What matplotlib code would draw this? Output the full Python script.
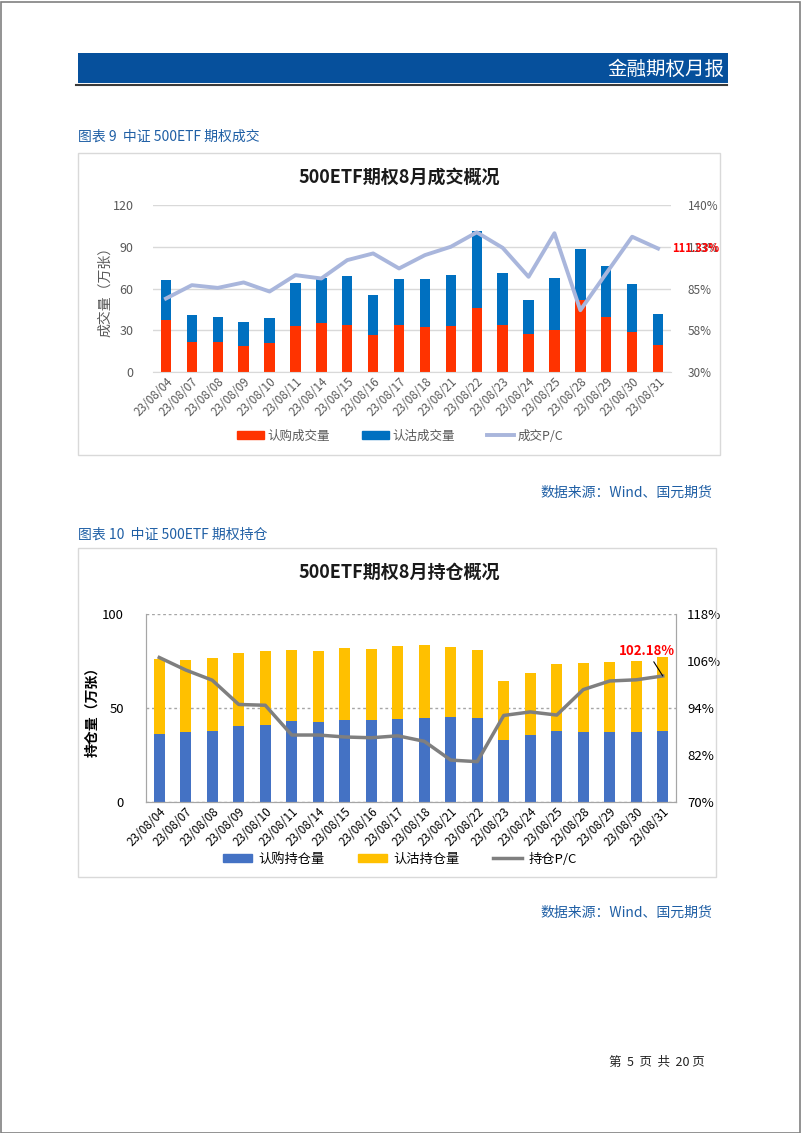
import matplotlib
matplotlib.use("Agg")
import matplotlib.pyplot as plt
from matplotlib.patches import Rectangle, Patch
from matplotlib.lines import Line2D
from matplotlib.ticker import FixedLocator, FixedFormatter
import numpy as np

plt.rcParams['font.family'] = ['Noto Sans CJK SC', 'DejaVu Sans']

W, H = 802, 1133

dates = ["23/08/04", "23/08/07", "23/08/08", "23/08/09", "23/08/10", "23/08/11",
         "23/08/14", "23/08/15", "23/08/16", "23/08/17", "23/08/18", "23/08/21",
         "23/08/22", "23/08/23", "23/08/24", "23/08/25", "23/08/28", "23/08/29",
         "23/08/30", "23/08/31"]

# 成交量 (万张)
call_vol = [37.1, 21.5, 21.3, 18.9, 21.1, 32.8, 34.9, 34.0, 26.3, 33.7,
            32.3, 32.8, 45.9, 33.5, 27.0, 30.1, 51.4, 39.5, 28.7, 19.7]
total_vol = [66.3, 40.7, 39.5, 36.1, 39.0, 63.9, 67.7, 68.9, 55.0, 67.0,
             67.0, 70.0, 101.6, 71.3, 51.7, 67.4, 88.5, 76.0, 63.4, 41.4]
vol_pc = [78.4, 87.2, 85.4, 89.0, 83.0, 93.8, 91.6, 103.7, 108.1, 98.2,
          107.0, 112.5, 122.0, 111.8, 92.7, 121.4, 70.7, 95.0, 119.1, 111.33]

# 持仓量 (万张)
call_oi = [36.4, 37.0, 38.0, 40.5, 41.0, 43.2, 42.6, 43.5, 43.5, 44.0,
           44.5, 45.3, 44.5, 33.2, 35.4, 38.0, 37.1, 37.0, 37.1, 38.0]
total_oi = [76.0, 75.7, 76.7, 79.2, 80.1, 81.1, 80.3, 81.9, 81.5, 82.9,
            83.3, 82.2, 80.8, 64.5, 68.8, 73.5, 74.1, 74.6, 75.1, 77.3]
oi_pc = [106.9, 103.7, 101.1, 94.9, 94.7, 87.1, 87.1, 86.6, 86.4, 86.9,
         85.5, 80.7, 80.3, 92.1, 93.0, 92.2, 98.7, 100.9, 101.2, 102.18]

put_vol = [t - c for t, c in zip(total_vol, call_vol)]
put_oi = [t - c for t, c in zip(total_oi, call_oi)]


def px(x0, y0, x1, y1):
    return [x0 / W, 1 - y1 / H, (x1 - x0) / W, (y1 - y0) / H]


fig = plt.figure(figsize=(W / 100, H / 100), dpi=100)
fig.patch.set_facecolor('white')

# page border
fig.add_artist(Rectangle((0.5 / W, 0.5 / H), 1 - 2.5 / W, 1 - 2.5 / H, transform=fig.transFigure,
                         fill=False, edgecolor='#808080', lw=1.2))
# header band
fig.add_artist(Rectangle((78 / W, 1 - 83 / H), (728 - 78) / W, 30 / H, transform=fig.transFigure,
                         facecolor='#06509C', edgecolor='none'))
fig.add_artist(Line2D([76 / W, 727 / W], [1 - 85 / H, 1 - 85 / H], transform=fig.transFigure,
                      color='#3A3A3A', lw=1.5))
fig.text(724 / W, 1 - 69 / H, "金融期权月报", color='white', fontsize=14, ha='right', va='center')

blue_txt = '#1F5FA5'
fig.text(78 / W, 1 - 137 / H, "图表 9  中证 500ETF 期权成交", color=blue_txt, fontsize=10, va='center')
fig.text(712 / W, 1 - 493 / H, "数据来源：Wind、国元期货", color=blue_txt, fontsize=10, ha='right', va='center')
fig.text(78 / W, 1 - 535 / H, "图表 10  中证 500ETF 期权持仓", color=blue_txt, fontsize=10, va='center')
fig.text(712 / W, 1 - 913 / H, "数据来源：Wind、国元期货", color=blue_txt, fontsize=10, ha='right', va='center')
fig.text(657 / W, 1 - 1062 / H, "第  5  页  共  20 页", color='#222222', fontsize=9, ha='center', va='center')

# chart boxes
for (x0, y0, x1, y1) in [(78, 153, 720, 455), (78, 548, 716, 877)]:
    fig.add_artist(Rectangle((x0 / W, 1 - y1 / H), (x1 - x0) / W, (y1 - y0) / H,
                             transform=fig.transFigure, fill=False, edgecolor='#D9D9D9', lw=1))

x = np.arange(len(dates))
bw = 0.4

# ---------- chart 1: 成交 ----------
ax1 = fig.add_axes(px(153, 205, 671, 372))
ax1.bar(x, call_vol, width=bw, color='#FF3300', zorder=2)
ax1.bar(x, put_vol, width=bw, bottom=call_vol, color='#0070C0', zorder=2)
ax1.set_xlim(-0.5, 19.5)
ax1.set_ylim(0, 120)
ax1.set_yticks([0, 30, 60, 90, 120])
ax1.grid(axis='y', color='#D9D9D9', lw=1, zorder=0)
for s in ['top', 'left', 'right']:
    ax1.spines[s].set_visible(False)
ax1.spines['bottom'].set_color('#D9D9D9')
ax1.tick_params(axis='y', length=0, labelsize=9, labelcolor='#595959', pad=14)
ax1.tick_params(axis='x', length=0, labelsize=8.5, labelcolor='#595959', pad=2)
ax1.set_xticks(x)
ax1.set_xticklabels(dates, rotation=45, ha='right', rotation_mode='anchor')
ax1.set_ylabel("成交量（万张）", color='#595959', fontsize=10, labelpad=0)

ax1r = ax1.twinx()
ax1r.plot(x, vol_pc, color='#A9B6DC', lw=2.8, zorder=3)
ax1r.set_ylim(30, 140)
ax1r.yaxis.set_major_locator(FixedLocator([30, 57.5, 85, 112.5, 140]))
ax1r.yaxis.set_major_formatter(FixedFormatter(["30%", "58%", "85%", "113%", "140%"]))
ax1r.tick_params(axis='y', length=0, labelsize=8.5, labelcolor='#595959', pad=12)
for s in ax1r.spines.values():
    s.set_visible(False)
ax1r.text(19.55, vol_pc[-1], "111.33%", color='#FF0000', fontsize=8, fontweight='bold',
          va='center', ha='left', clip_on=False)

fig.text(399 / W, 1 - 177 / H, "500ETF期权8月成交概况", fontsize=13, fontweight='bold',
         ha='center', va='center', color='#1A1A1A')
h1 = [Patch(color='#FF3300'), Patch(color='#0070C0'), Line2D([], [], color='#A9B6DC', lw=2.8)]
fig.legend(h1, ["认购成交量", "认沽成交量", "成交P/C"], loc='center', ncol=3,
           bbox_to_anchor=(400 / W, 1 - 436 / H), frameon=False, fontsize=9,
           handlelength=2.2, handleheight=0.6, columnspacing=2.5, handletextpad=0.3,
           labelcolor='#595959')

# ---------- chart 2: 持仓 ----------
ax2 = fig.add_axes(px(146, 614, 676, 802))
ax2.bar(x, call_oi, width=bw, color='#4472C4', zorder=2)
ax2.bar(x, put_oi, width=bw, bottom=call_oi, color='#FFC000', zorder=2)
ax2.set_xlim(-0.5, 19.5)
ax2.set_ylim(0, 100)
ax2.set_yticks([0, 50, 100])
ax2.grid(axis='y', color='#A6A6A6', lw=1, ls=(0, (2, 2)), zorder=0)
ax2.spines['top'].set_visible(False)
for s in ['left', 'right', 'bottom']:
    ax2.spines[s].set_color('#A6A6A6')
ax2.tick_params(axis='y', length=0, labelsize=9.5, labelcolor='black', pad=16)
ax2.tick_params(axis='x', length=0, labelsize=8.5, labelcolor='black', pad=2)
ax2.set_xticks(x)
ax2.set_xticklabels(dates, rotation=45, ha='right', rotation_mode='anchor')
ax2.set_ylabel("持仓量（万张）", color='black', fontsize=10, fontweight='bold', labelpad=2)

ax2r = ax2.twinx()
ax2r.plot(x, oi_pc, color='#7F7F7F', lw=2.5, zorder=3)
ax2r.set_ylim(70, 118)
ax2r.set_yticks([70, 82, 94, 106, 118])
ax2r.set_yticklabels(["70%", "82%", "94%", "106%", "118%"])
ax2r.tick_params(axis='y', length=0, labelsize=9.5, labelcolor='black', pad=8)
ax2r.spines['top'].set_visible(False)
for s in ['left', 'right', 'bottom']:
    ax2r.spines[s].set_color('#A6A6A6')
ax2r.annotate("102.18%", xy=(19, oi_pc[-1]), xytext=(18.4, 108.6), color='#FF0000',
              fontsize=9.5, fontweight='bold', ha='center', va='center',
              arrowprops=dict(arrowstyle='-', color='black', lw=0.8, shrinkA=1, shrinkB=0))

fig.text(399 / W, 1 - 572 / H, "500ETF期权8月持仓概况", fontsize=13, fontweight='bold',
         ha='center', va='center', color='#1A1A1A')
h2 = [Patch(color='#4472C4'), Patch(color='#FFC000'), Line2D([], [], color='#7F7F7F', lw=2.5)]
fig.legend(h2, ["认购持仓量", "认沽持仓量", "持仓P/C"], loc='center', ncol=3,
           bbox_to_anchor=(400 / W, 1 - 859 / H), frameon=False, fontsize=9.5,
           handlelength=2.2, handleheight=0.6, columnspacing=2.5, handletextpad=0.5)

fig.savefig("out.png", dpi=100)
